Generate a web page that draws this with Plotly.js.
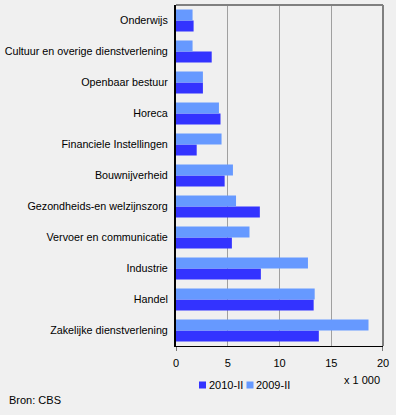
<!DOCTYPE html>
<html>
<head>
<meta charset="utf-8">
<script src="https://cdn.plot.ly/plotly-3.0.1.min.js"></script>
<style>html,body{margin:0;padding:0;background:#F0F0F0;}#chart{width:396px;height:415px;}</style>
</head>
<body>
<div id="chart"></div>
<script>
// categories listed top to bottom as in the chart
var categories = ["Onderwijs", "Cultuur en overige dienstverlening", "Openbaar bestuur", "Horeca",
  "Financiele Instellingen", "Bouwnijverheid", "Gezondheids-en welzijnszorg",
  "Vervoer en communicatie", "Industrie", "Handel", "Zakelijke dienstverlening"];
var values2010 = [1.7, 3.45, 2.6, 4.3, 2.0, 4.7, 8.1, 5.4, 8.2, 13.3, 13.8];
var values2009 = [1.6, 1.6, 2.6, 4.15, 4.4, 5.5, 5.8, 7.1, 12.75, 13.4, 18.6];
var seriesNames = ["2010-II", "2009-II"];
var seriesColors = ["#3333FF", "#6699FF"];
var xTicks = [0, 5, 10, 15, 20];

var cats = categories.slice().reverse();
var font = {family: "Liberation Sans, Arial, sans-serif", size: 11, color: "#000"};
var catFont = {family: "Liberation Sans, Arial, sans-serif", size: 10.75, color: "#000"};

var traces = [
  {type: "bar", orientation: "h", name: seriesNames[0], y: cats, x: values2010.slice().reverse(),
   marker: {color: seriesColors[0], line: {width: 0}}},
  {type: "bar", orientation: "h", name: seriesNames[1], y: cats, x: values2009.slice().reverse(),
   marker: {color: seriesColors[1], line: {width: 0}}}
];

// pixel -> paper helpers (plot area: left 176, width 207, bottom 346, height 341)
var L = 176, W = 207, B = 346, H = 341;
function px(x) { return (x - L) / W; }
function py(y) { return (B - y) / H; }

var legendSquares = [199, 246.5];
var legendTexts = [208.5, 256];
var shapes = [
  {type: "line", xref: "paper", yref: "paper", x0: 0, x1: 1, y0: 1, y1: 1, line: {color: "#808080", width: 2}},
  {type: "line", xref: "paper", yref: "paper", x0: 1, x1: 1, y0: 0, y1: 1, line: {color: "#808080", width: 2}},
  {type: "line", xref: "x", yref: "paper", x0: 0, x1: 0, y0: 0, y1: py(351), line: {color: "#000", width: 1}},
  {type: "line", xref: "x", yref: "paper", x0: 20, x1: 20, y0: 0, y1: py(351), line: {color: "#000", width: 1}}
];
var annotations = [
  {text: "x 1 000", xref: "paper", yref: "paper", x: px(381.5), y: py(380), xanchor: "right", yanchor: "middle",
   showarrow: false, font: font},
  {text: "Bron: CBS", xref: "paper", yref: "paper", x: px(7), y: py(400), xanchor: "left", yanchor: "middle",
   showarrow: false, font: font}
];
for (var i = 0; i < seriesNames.length; i++) {
  shapes.push({type: "rect", xref: "paper", yref: "paper", x0: px(legendSquares[i]), x1: px(legendSquares[i] + 7),
    y0: py(381.5), y1: py(388.5), fillcolor: seriesColors[i], line: {width: 0}});
  annotations.push({text: seriesNames[i], xref: "paper", yref: "paper", x: px(legendTexts[i] - 2), y: py(385.5),
    xanchor: "left", yanchor: "middle", showarrow: false, font: font});
}

var layout = {
  width: 396, height: 415,
  margin: {l: L, r: 396 - L - W, t: 415 - (415 - B) - H, b: 415 - B},
  paper_bgcolor: "#F0F0F0", plot_bgcolor: "#F0F0F0",
  font: font,
  barmode: "group", bargap: 0.29, bargroupgap: 0,
  showlegend: false,
  xaxis: {range: [0, 20], tickvals: xTicks, ticktext: xTicks.map(String),
          showgrid: true, gridcolor: "#A0A0A0", gridwidth: 1,
          zeroline: false, showline: true, linecolor: "#000", linewidth: 1,
          ticks: "outside", ticklen: 7, tickcolor: "rgba(0,0,0,0)", tickfont: font, fixedrange: true},
  yaxis: {type: "category", categoryorder: "array", categoryarray: cats,
          showgrid: false, zeroline: false, showline: true, linecolor: "#000", linewidth: 2,
          ticks: "outside", ticklen: 4, tickcolor: "rgba(0,0,0,0)", tickfont: catFont, fixedrange: true},
  shapes: shapes,
  annotations: annotations
};

Plotly.newPlot("chart", traces, layout, {displayModeBar: false, staticPlot: true});
</script>
</body>
</html>
